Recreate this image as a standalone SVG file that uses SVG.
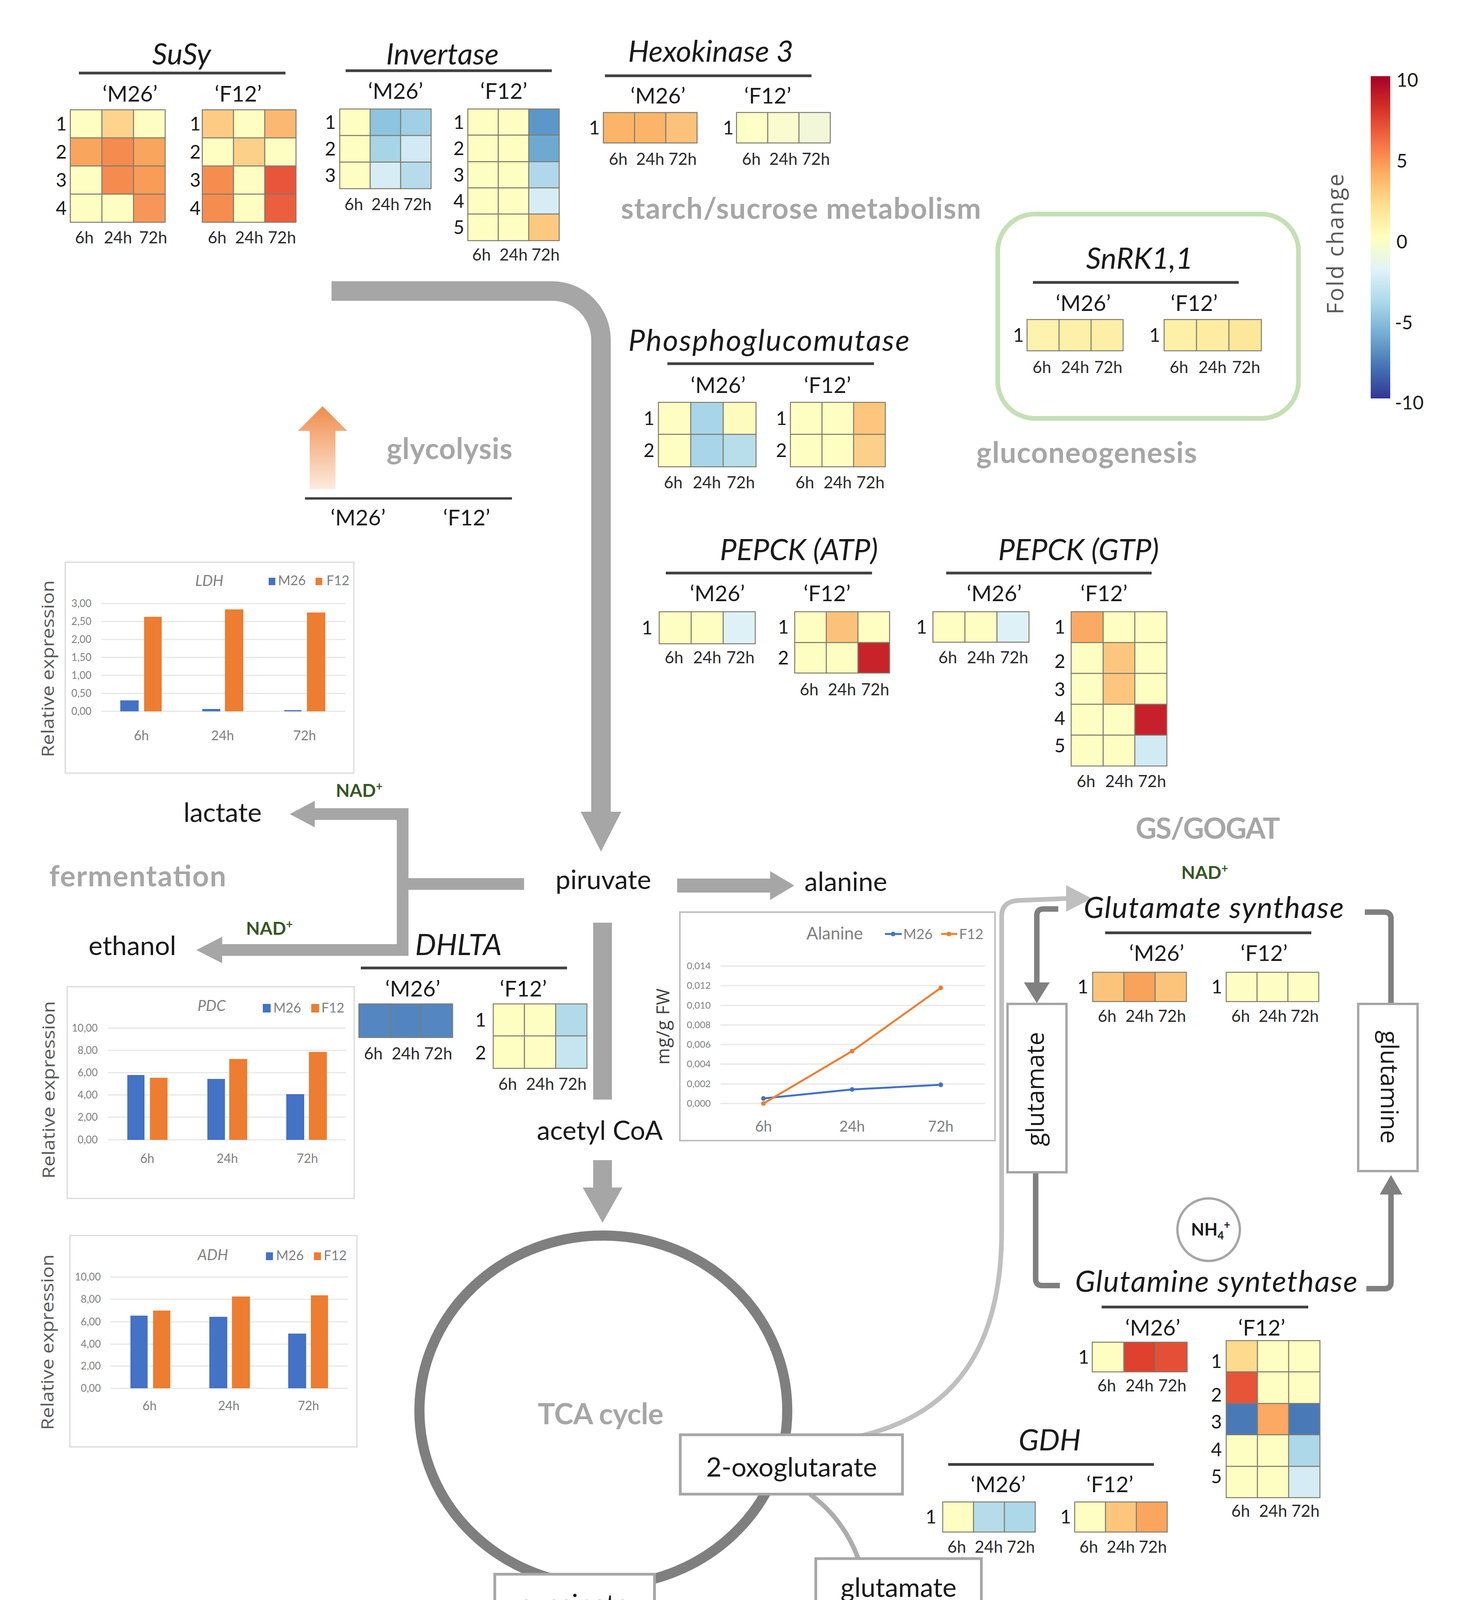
<svg xmlns="http://www.w3.org/2000/svg" width="3731" height="4685" viewBox="0 0 3731 4685">
<defs>
<style>
text{font-family:Lato,'Liberation Sans',Arial,sans-serif;fill:#1a1a1a}
.ti{font-style:italic;font-size:76px;text-anchor:middle}
.st{font-size:56px;text-anchor:middle}
.rw{font-size:48px;text-anchor:middle}
.tm{font-size:42px;text-anchor:middle;fill:#2a2a2a}
.sec{font-weight:bold;fill:#A6A6A6;font-size:74px}
.met{font-size:68px;text-anchor:middle}
.nad{font-weight:bold;fill:#375623;font-size:46px}
.ul{stroke:#404040;stroke-width:7}
.cells rect{stroke:#7d7d6d;stroke-width:2.5}
.cbox{fill:#fff;stroke:#D9D9D9;stroke-width:3}
.grid{stroke:#E6E6E6;stroke-width:3}
.ax{font-size:26px;fill:#7F7F7F;text-anchor:end}
.xl{font-size:32px;fill:#7F7F7F;text-anchor:middle}
.lg{font-size:34px;fill:#7F7F7F}
.ct{font-size:38px;fill:#7F7F7F;font-style:italic;text-anchor:middle}
.rel{font-family:'Open Sans','DejaVu Sans',sans-serif;font-size:44px;fill:#595959;text-anchor:middle}
.bl{fill:#4472C4}
.or{fill:#ED7D31}
.mbox{fill:#fff;stroke:#A6A6A6;stroke-width:7}
.arrow{fill:#A6A6A6}
.dk{fill:none;stroke:#808080;stroke-width:14}
</style>
<linearGradient id="cbar" x1="0" y1="0" x2="0" y2="1">
<stop offset="0" stop-color="#A50026"/>
<stop offset="0.1" stop-color="#D73027"/>
<stop offset="0.2" stop-color="#F46D43"/>
<stop offset="0.3" stop-color="#FDAE61"/>
<stop offset="0.4" stop-color="#FEE090"/>
<stop offset="0.5" stop-color="#FFFFBF"/>
<stop offset="0.6" stop-color="#E0F3F8"/>
<stop offset="0.7" stop-color="#ABD9E9"/>
<stop offset="0.8" stop-color="#74ADD1"/>
<stop offset="0.9" stop-color="#4575B4"/>
<stop offset="1" stop-color="#313695"/>
</linearGradient>
<linearGradient id="orgrad" x1="0" y1="0" x2="0" y2="1">
<stop offset="0" stop-color="#F08C4A"/>
<stop offset="1" stop-color="#FDEBDF"/>
</linearGradient>
</defs>
<rect width="3731" height="4685" fill="#fff"/>

<!-- connectors -->
<g id="connectors">
<path d="M849 745 H1414 A125 125 0 0 1 1539 870 V2085" fill="none" stroke="#A6A6A6" stroke-width="50"/>
<polygon class="arrow" points="1487,2078 1591,2078 1539,2180"/>
<rect class="arrow" x="1519" y="2362" width="48" height="453"/>
<rect class="arrow" x="1519" y="2970" width="48" height="72"/>
<polygon class="arrow" points="1492,3040 1594,3040 1543,3130"/>
<path d="M805 2084 H1031 V2432 H568 M1031 2263 H1342" fill="none" stroke="#A6A6A6" stroke-width="30"/>
<polygon class="arrow" points="806,2050 742,2084 806,2118"/>
<polygon class="arrow" points="569,2398 503,2432 569,2466"/>
<rect class="arrow" x="1734" y="2249" width="240" height="36"/>
<polygon class="arrow" points="1972,2230 2034,2267 1972,2304"/>
<path d="M2160 3685 C2420 3640 2565 3480 2565 3150 L2565 2345 Q2565 2307 2610 2305 L2735 2300" fill="none" stroke="#BFBFBF" stroke-width="12"/>
<polygon fill="#BFBFBF" points="2730,2266 2796,2300 2730,2334"/>
<path class="dk" d="M2710 2327 H2672 Q2655 2327 2655 2344 V2518"/>
<polygon fill="#808080" points="2622,2515 2688,2515 2655,2568"/>
<path class="dk" d="M3495 2335 H3545 Q3562 2335 3562 2352 V2570"/>
<path class="dk" d="M2652 3001 V3274 Q2652 3291 2669 3291 H2714"/>
<path class="dk" d="M3499 3299 H3545 Q3562 3299 3562 3282 V3055"/>
<polygon fill="#808080" points="3533,3058 3591,3058 3562,3008"/>
<path d="M2074 3825 A352 352 0 1 1 1522 4183" fill="none" stroke="#ADADAD" stroke-width="12"/>
</g>

<!-- TCA cycle -->
<g id="tca-cycle">
<ellipse cx="1545" cy="3611" rx="471" ry="448" fill="none" stroke="#7F7F7F" stroke-width="26"/>
<text class="sec" x="1377" y="3646" textLength="322">TCA cycle</text>
</g>
<g id="gaba-shunt-label"><text class="sec" x="1696" y="4223" textLength="406" style="fill:#B3B3B3">GABA shunt</text></g>

<!-- section labels -->
<g id="label-starch"><text class="sec" x="1590" y="560" textLength="922">starch/sucrose metabolism</text></g>
<g id="label-gluconeogenesis"><text class="sec" x="2500" y="1185" textLength="565">gluconeogenesis</text></g>
<g id="label-fermentation"><text class="sec" x="126" y="2269" textLength="453">fermentation</text></g>
<g id="label-gsgogat"><text class="sec" x="2908" y="2147" textLength="370">GS/GOGAT</text></g>

<!-- SuSy -->
<g id="susy">
<text class="ti" x="465" y="165">SuSy</text>
<line class="ul" x1="202" y1="187" x2="731" y2="187"/>
<text class="st" x="333" y="260">‘M26’</text>
<text class="st" x="610" y="260">‘F12’</text>
<g class="cells">
<rect x="180" y="281" width="81" height="72" fill="#FEFEC2"/><rect x="261" y="281" width="81" height="72" fill="#FDD38E"/><rect x="342" y="281" width="81" height="72" fill="#FEFEC2"/>
<rect x="180" y="353" width="81" height="72" fill="#F9A55E"/><rect x="261" y="353" width="81" height="72" fill="#F68B4F"/><rect x="342" y="353" width="81" height="72" fill="#F9A55E"/>
<rect x="180" y="425" width="81" height="72" fill="#FEFEC2"/><rect x="261" y="425" width="81" height="72" fill="#F68B4F"/><rect x="342" y="425" width="81" height="72" fill="#F99C58"/>
<rect x="180" y="497" width="81" height="72" fill="#FEFEC2"/><rect x="261" y="497" width="81" height="72" fill="#FEFEC2"/><rect x="342" y="497" width="81" height="72" fill="#F8965A"/>
<rect x="518" y="281" width="80" height="72" fill="#FDCB84"/><rect x="598" y="281" width="80" height="72" fill="#FEFEC2"/><rect x="678" y="281" width="80" height="72" fill="#FCB872"/>
<rect x="518" y="353" width="80" height="72" fill="#FEFEC2"/><rect x="598" y="353" width="80" height="72" fill="#FDD08A"/><rect x="678" y="353" width="80" height="72" fill="#FEFEC2"/>
<rect x="518" y="425" width="80" height="72" fill="#F68D4F"/><rect x="598" y="425" width="80" height="72" fill="#FEFEC2"/><rect x="678" y="425" width="80" height="72" fill="#E8553A"/>
<rect x="518" y="497" width="80" height="72" fill="#F68D4F"/><rect x="598" y="497" width="80" height="72" fill="#FEFEC2"/><rect x="678" y="497" width="80" height="72" fill="#EB5E3E"/>
</g>
<text class="rw" x="157" y="334">1</text><text class="rw" x="157" y="406">2</text><text class="rw" x="157" y="478">3</text><text class="rw" x="157" y="550">4</text>
<text class="rw" x="500" y="334">1</text><text class="rw" x="500" y="406">2</text><text class="rw" x="500" y="478">3</text><text class="rw" x="500" y="550">4</text>
<text class="tm" x="216" y="623">6h</text><text class="tm" x="302" y="623">24h</text><text class="tm" x="392" y="623">72h</text>
<text class="tm" x="556" y="623">6h</text><text class="tm" x="638" y="623">24h</text><text class="tm" x="722" y="623">72h</text>
</g>

<!-- Invertase -->
<g id="invertase">
<text class="ti" x="1133" y="165">Invertase</text>
<line class="ul" x1="885" y1="181" x2="1413" y2="181"/>
<text class="st" x="1013" y="253">‘M26’</text>
<text class="st" x="1290" y="253">‘F12’</text>
<g class="cells">
<rect x="870" y="279" width="78" height="68" fill="#FEFEC2"/><rect x="948" y="279" width="78" height="68" fill="#8DC4E0"/><rect x="1026" y="279" width="78" height="68" fill="#A0CFE6"/>
<rect x="870" y="347" width="78" height="68" fill="#FEFEC2"/><rect x="948" y="347" width="78" height="68" fill="#A8D4E8"/><rect x="1026" y="347" width="78" height="68" fill="#D2EAF3"/>
<rect x="870" y="415" width="78" height="68" fill="#FEFEC2"/><rect x="948" y="415" width="78" height="68" fill="#D6EDF5"/><rect x="1026" y="415" width="78" height="68" fill="#B6DCEC"/>
<rect x="1198" y="279" width="78" height="67" fill="#FEFEC2"/><rect x="1276" y="279" width="78" height="67" fill="#FEFEC2"/><rect x="1354" y="279" width="78" height="67" fill="#5B97C8"/>
<rect x="1198" y="346" width="78" height="68" fill="#FEFEC2"/><rect x="1276" y="346" width="78" height="68" fill="#FEFEC2"/><rect x="1354" y="346" width="78" height="68" fill="#6EA9D2"/>
<rect x="1198" y="414" width="78" height="67" fill="#FEFEC2"/><rect x="1276" y="414" width="78" height="67" fill="#FEFEC2"/><rect x="1354" y="414" width="78" height="67" fill="#B1D8EA"/>
<rect x="1198" y="481" width="78" height="67" fill="#FEFEC2"/><rect x="1276" y="481" width="78" height="67" fill="#FEFEC2"/><rect x="1354" y="481" width="78" height="67" fill="#D7EDF5"/>
<rect x="1198" y="548" width="78" height="68" fill="#FEFEC2"/><rect x="1276" y="548" width="78" height="68" fill="#FEFEC2"/><rect x="1354" y="548" width="78" height="68" fill="#FDC980"/>
</g>
<text class="rw" x="846" y="330">1</text><text class="rw" x="846" y="398">2</text><text class="rw" x="846" y="466">3</text>
<text class="rw" x="1175" y="330">1</text><text class="rw" x="1175" y="397">2</text><text class="rw" x="1175" y="465">3</text><text class="rw" x="1175" y="532">4</text><text class="rw" x="1175" y="599">5</text>
<text class="tm" x="906" y="538">6h</text><text class="tm" x="987" y="538">24h</text><text class="tm" x="1069" y="538">72h</text>
<text class="tm" x="1233" y="667">6h</text><text class="tm" x="1315" y="667">24h</text><text class="tm" x="1397" y="667">72h</text>
</g>

<!-- Hexokinase 3 -->
<g id="hexokinase3">
<text class="ti" x="1820" y="158">Hexokinase 3</text>
<line class="ul" x1="1549" y1="194" x2="2078" y2="194"/>
<text class="st" x="1685" y="265">‘M26’</text>
<text class="st" x="1966" y="265">‘F12’</text>
<g class="cells">
<rect x="1545" y="288" width="80" height="78" fill="#FBB468"/><rect x="1625" y="288" width="80" height="78" fill="#FBB468"/><rect x="1705" y="288" width="80" height="78" fill="#FCC27C"/>
<rect x="1886" y="288" width="80" height="78" fill="#FEFEC6"/><rect x="1966" y="288" width="80" height="78" fill="#FAFBCE"/><rect x="2046" y="288" width="80" height="78" fill="#F2F7D8"/>
</g>
<text class="rw" x="1522" y="344">1</text><text class="rw" x="1865" y="344">1</text>
<text class="tm" x="1583" y="422">6h</text><text class="tm" x="1665" y="422">24h</text><text class="tm" x="1748" y="422">72h</text>
<text class="tm" x="1924" y="422">6h</text><text class="tm" x="2006" y="422">24h</text><text class="tm" x="2089" y="422">72h</text>
</g>

<!-- colour scale -->
<g id="colour-scale">
<rect x="3510" y="195" width="50" height="825" fill="url(#cbar)"/>
<text x="3576" y="222" font-size="48">10</text>
<text x="3576" y="429" font-size="48">5</text>
<text x="3576" y="636" font-size="48">0</text>
<text x="3572" y="843" font-size="48">-5</text>
<text x="3572" y="1048" font-size="48">-10</text>
<text class="rel" transform="translate(3440,625) rotate(-90)" style="font-size:58px" textLength="360">Fold change</text>
</g>

<!-- SnRK1,1 -->
<g id="snrk11">
<rect x="2555" y="548" width="770" height="523" rx="95" fill="none" stroke="#C5E0B4" stroke-width="12"/>
<text class="ti" x="2918" y="688">SnRK1,1</text>
<line class="ul" x1="2645" y1="723" x2="3172" y2="723"/>
<text class="st" x="2774" y="796">‘M26’</text>
<text class="st" x="3058" y="796">‘F12’</text>
<g class="cells">
<rect x="2630" y="818" width="82" height="80" fill="#FEF2AE"/><rect x="2712" y="818" width="82" height="80" fill="#FEF0A8"/><rect x="2794" y="818" width="82" height="80" fill="#FEEFA6"/>
<rect x="2981" y="818" width="83" height="80" fill="#FEF0A6"/><rect x="3064" y="818" width="83" height="80" fill="#FEEDA1"/><rect x="3147" y="818" width="83" height="80" fill="#FDE79A"/>
</g>
<text class="rw" x="2608" y="875">1</text><text class="rw" x="2957" y="875">1</text>
<text class="tm" x="2668" y="955">6h</text><text class="tm" x="2753" y="955">24h</text><text class="tm" x="2838" y="955">72h</text>
<text class="tm" x="3019" y="955">6h</text><text class="tm" x="3105" y="955">24h</text><text class="tm" x="3191" y="955">72h</text>
</g>

<!-- Phosphoglucomutase -->
<g id="phosphoglucomutase">
<text class="ti" x="1969" y="898" textLength="720">Phosphoglucomutase</text>
<line class="ul" x1="1709" y1="931" x2="2238" y2="931"/>
<text class="st" x="1839" y="1006">‘M26’</text>
<text class="st" x="2119" y="1006">‘F12’</text>
<g class="cells">
<rect x="1686" y="1030" width="83" height="82" fill="#FEFEC2"/><rect x="1769" y="1030" width="83" height="82" fill="#A9D5E8"/><rect x="1852" y="1030" width="84" height="82" fill="#FEFBBE"/>
<rect x="1686" y="1112" width="83" height="83" fill="#FEFEC2"/><rect x="1769" y="1112" width="83" height="83" fill="#A9D5E8"/><rect x="1852" y="1112" width="84" height="83" fill="#B8DEEC"/>
<rect x="2024" y="1030" width="81" height="82" fill="#FEFEC2"/><rect x="2105" y="1030" width="81" height="82" fill="#FEFEC2"/><rect x="2186" y="1030" width="81" height="82" fill="#FDC67C"/>
<rect x="2024" y="1112" width="81" height="83" fill="#FEFEC2"/><rect x="2105" y="1112" width="81" height="83" fill="#FEFEC2"/><rect x="2186" y="1112" width="81" height="83" fill="#FDD089"/>
</g>
<text class="rw" x="1662" y="1088">1</text><text class="rw" x="1662" y="1170">2</text>
<text class="rw" x="2001" y="1088">1</text><text class="rw" x="2001" y="1170">2</text>
<text class="tm" x="1724" y="1250">6h</text><text class="tm" x="1810" y="1250">24h</text><text class="tm" x="1897" y="1250">72h</text>
<text class="tm" x="2061" y="1250">6h</text><text class="tm" x="2145" y="1250">24h</text><text class="tm" x="2229" y="1250">72h</text>
</g>

<!-- PEPCK (ATP) -->
<g id="pepck-atp">
<text class="ti" x="2046" y="1434">PEPCK (ATP)</text>
<line class="ul" x1="1705" y1="1467" x2="2233" y2="1467"/>
<text class="st" x="1837" y="1539">‘M26’</text>
<text class="st" x="2118" y="1539">‘F12’</text>
<g class="cells">
<rect x="1688" y="1566" width="82" height="82" fill="#FEFEC2"/><rect x="1770" y="1566" width="82" height="82" fill="#FEFEC2"/><rect x="1852" y="1566" width="82" height="82" fill="#DEF1F7"/>
<rect x="2035" y="1566" width="81" height="79" fill="#FEFEC2"/><rect x="2116" y="1566" width="81" height="79" fill="#FDC27A"/><rect x="2197" y="1566" width="81" height="79" fill="#FEFEC2"/>
<rect x="2035" y="1645" width="81" height="78" fill="#FEFEC2"/><rect x="2116" y="1645" width="81" height="78" fill="#FEFEC2"/><rect x="2197" y="1645" width="81" height="78" fill="#C8232A"/>
</g>
<text class="rw" x="1657" y="1624">1</text>
<text class="rw" x="2006" y="1622">1</text><text class="rw" x="2006" y="1701">2</text>
<text class="tm" x="1726" y="1698">6h</text><text class="tm" x="1811" y="1698">24h</text><text class="tm" x="1896" y="1698">72h</text>
<text class="tm" x="2072" y="1780">6h</text><text class="tm" x="2156" y="1780">24h</text><text class="tm" x="2241" y="1780">72h</text>
</g>

<!-- PEPCK (GTP) -->
<g id="pepck-gtp">
<text class="ti" x="2762" y="1434">PEPCK (GTP)</text>
<line class="ul" x1="2423" y1="1467" x2="2949" y2="1467"/>
<text class="st" x="2546" y="1539">‘M26’</text>
<text class="st" x="2827" y="1539">‘F12’</text>
<g class="cells">
<rect x="2389" y="1566" width="82" height="78" fill="#FEFEC2"/><rect x="2471" y="1566" width="82" height="78" fill="#FEFEC2"/><rect x="2553" y="1566" width="82" height="78" fill="#DEF1F7"/>
<rect x="2743" y="1566" width="82" height="79" fill="#FBAA63"/><rect x="2825" y="1566" width="81" height="79" fill="#FEFEC2"/><rect x="2906" y="1566" width="82" height="79" fill="#FEFEC2"/>
<rect x="2743" y="1645" width="82" height="79" fill="#FEFEC2"/><rect x="2825" y="1645" width="81" height="79" fill="#FDC67F"/><rect x="2906" y="1645" width="82" height="79" fill="#FEFEC2"/>
<rect x="2743" y="1724" width="82" height="79" fill="#FEFEC2"/><rect x="2825" y="1724" width="81" height="79" fill="#FDC67F"/><rect x="2906" y="1724" width="82" height="79" fill="#FEFEC2"/>
<rect x="2743" y="1803" width="82" height="79" fill="#FEFEC2"/><rect x="2825" y="1803" width="81" height="79" fill="#FEFEC2"/><rect x="2906" y="1803" width="82" height="79" fill="#C8202A"/>
<rect x="2743" y="1882" width="82" height="79" fill="#FEFEC2"/><rect x="2825" y="1882" width="81" height="79" fill="#FEFEC2"/><rect x="2906" y="1882" width="82" height="79" fill="#D1EBF4"/>
</g>
<text class="rw" x="2360" y="1622">1</text>
<text class="rw" x="2714" y="1622">1</text><text class="rw" x="2714" y="1710">2</text><text class="rw" x="2714" y="1782">3</text><text class="rw" x="2714" y="1856">4</text><text class="rw" x="2714" y="1926">5</text>
<text class="tm" x="2427" y="1698">6h</text><text class="tm" x="2512" y="1698">24h</text><text class="tm" x="2597" y="1698">72h</text>
<text class="tm" x="2781" y="2015">6h</text><text class="tm" x="2866" y="2015">24h</text><text class="tm" x="2950" y="2015">72h</text>
</g>

<!-- glycolysis -->
<g id="glycolysis">
<polygon points="826,1040 889,1103 859,1103 859,1252 793,1252 793,1103 763,1103" fill="url(#orgrad)"/>
<text class="sec" x="990" y="1175" textLength="322">glycolysis</text>
<line x1="781" y1="1276" x2="1311" y2="1276" stroke="#404040" stroke-width="6"/>
<text class="st" x="917" y="1345">‘M26’</text>
<text class="st" x="1195" y="1345">‘F12’</text>
</g>

<!-- LDH chart -->
<g id="ldh-chart">
<rect class="cbox" x="167" y="1439" width="739" height="540"/>
<text class="rel" transform="translate(138,1712) rotate(-90)" textLength="453" lengthAdjust="spacingAndGlyphs">Relative expression</text>
<text class="ct" x="536" y="1500">LDH</text>
<rect class="bl" x="688" y="1479" width="17" height="19"/><text class="lg" x="712" y="1498">M26</text>
<rect class="or" x="808" y="1479" width="17" height="19"/><text class="lg" x="836" y="1498">F12</text>
<g class="grid">
<line x1="259" y1="1545" x2="884" y2="1545"/><line x1="259" y1="1591" x2="884" y2="1591"/><line x1="259" y1="1637" x2="884" y2="1637"/><line x1="259" y1="1683" x2="884" y2="1683"/><line x1="259" y1="1729" x2="884" y2="1729"/><line x1="259" y1="1775" x2="884" y2="1775"/><line x1="259" y1="1821" x2="884" y2="1821"/>
</g>
<text class="ax" x="234" y="1554">3,00</text><text class="ax" x="234" y="1600">2,50</text><text class="ax" x="234" y="1646">2,00</text><text class="ax" x="234" y="1692">1,50</text><text class="ax" x="234" y="1738">1,00</text><text class="ax" x="234" y="1784">0,50</text><text class="ax" x="234" y="1830">0,00</text>
<rect class="bl" x="308" y="1793" width="47" height="28"/><rect class="or" x="369" y="1579" width="45" height="242"/>
<rect class="bl" x="518" y="1815" width="46" height="6"/><rect class="or" x="576" y="1560" width="47" height="261"/>
<rect class="bl" x="728" y="1818" width="44" height="3"/><rect class="or" x="786" y="1568" width="47" height="253"/>
<text class="xl" x="362" y="1895" style="font-size:34px">6h</text><text class="xl" x="570" y="1895" style="font-size:34px">24h</text><text class="xl" x="780" y="1895" style="font-size:34px">72h</text>
</g>

<!-- fermentation products -->
<g id="lactate"><text class="met" x="570" y="2104">lactate</text></g>
<g id="ethanol"><text class="met" x="339" y="2445">ethanol</text></g>
<g id="nad-lactate"><text class="nad" x="860" y="2040">NAD<tspan font-size="30" dy="-16">+</tspan></text></g>
<g id="nad-ethanol"><text class="nad" x="630" y="2393">NAD<tspan font-size="30" dy="-16">+</tspan></text></g>
<g id="piruvate"><text class="met" x="1545" y="2276">piruvate</text></g>
<g id="acetyl-coa"><text class="met" x="1536" y="2918">acetyl CoA</text></g>
<g id="alanine"><text class="met" x="2166" y="2281">alanine</text></g>

<!-- DHLTA -->
<g id="dhlta">
<text class="ti" x="1174" y="2445">DHLTA</text>
<line class="ul" x1="924" y1="2478" x2="1452" y2="2478"/>
<text class="st" x="1057" y="2551">‘M26’</text>
<text class="st" x="1340" y="2551">‘F12’</text>
<g class="cells">
<rect x="919" y="2570" width="80" height="86" fill="#5486C1"/><rect x="999" y="2570" width="80" height="86" fill="#5285C0"/><rect x="1079" y="2570" width="80" height="86" fill="#5486C1"/>
<rect x="1263" y="2570" width="80" height="82" fill="#FEFEC2"/><rect x="1343" y="2570" width="80" height="82" fill="#FEFEC2"/><rect x="1423" y="2570" width="80" height="82" fill="#B3DAEB"/>
<rect x="1263" y="2652" width="80" height="83" fill="#FEFEC2"/><rect x="1343" y="2652" width="80" height="83" fill="#FEFEC2"/><rect x="1423" y="2652" width="80" height="83" fill="#C6E5F0"/>
</g>
<text class="rw" x="1231" y="2628">1</text><text class="rw" x="1231" y="2712">2</text>
<text class="tm" x="956" y="2712">6h</text><text class="tm" x="1039" y="2712">24h</text><text class="tm" x="1122" y="2712">72h</text>
<text class="tm" x="1300" y="2790">6h</text><text class="tm" x="1383" y="2790">24h</text><text class="tm" x="1466" y="2790">72h</text>
</g>

<!-- PDC chart -->
<g id="pdc-chart">
<rect class="cbox" x="172" y="2526" width="735" height="542"/>
<text class="rel" transform="translate(140,2790) rotate(-90)" textLength="455" lengthAdjust="spacingAndGlyphs">Relative expression</text>
<text class="ct" x="542" y="2588">PDC</text>
<rect class="bl" x="673" y="2570" width="20" height="22"/><text class="lg" x="700" y="2592">M26</text>
<rect class="or" x="797" y="2570" width="20" height="22"/><text class="lg" x="823" y="2592">F12</text>
<g class="grid">
<line x1="276" y1="2632" x2="886" y2="2632"/><line x1="276" y1="2689" x2="886" y2="2689"/><line x1="276" y1="2746" x2="886" y2="2746"/><line x1="276" y1="2803" x2="886" y2="2803"/><line x1="276" y1="2860" x2="886" y2="2860"/><line x1="276" y1="2918" x2="886" y2="2918"/>
</g>
<text class="ax" x="250" y="2641">10,00</text><text class="ax" x="250" y="2698">8,00</text><text class="ax" x="250" y="2755">6,00</text><text class="ax" x="250" y="2812">4,00</text><text class="ax" x="250" y="2869">2,00</text><text class="ax" x="250" y="2927">0,00</text>
<rect class="bl" x="326" y="2752" width="44" height="166"/><rect class="or" x="384" y="2759" width="45" height="159"/>
<rect class="bl" x="531" y="2762" width="45" height="156"/><rect class="or" x="587" y="2711" width="46" height="207"/>
<rect class="bl" x="733" y="2801" width="46" height="117"/><rect class="or" x="791" y="2693" width="46" height="225"/>
<text class="xl" x="377" y="2977">6h</text><text class="xl" x="582" y="2977">24h</text><text class="xl" x="787" y="2977">72h</text>
</g>

<!-- ADH chart -->
<g id="adh-chart">
<rect class="cbox" x="179" y="3163" width="735" height="541"/>
<text class="rel" transform="translate(137,3436) rotate(-90)" textLength="450" lengthAdjust="spacingAndGlyphs">Relative expression</text>
<text class="ct" x="545" y="3226">ADH</text>
<rect class="bl" x="681" y="3206" width="18" height="20"/><text class="lg" x="707" y="3226">M26</text>
<rect class="or" x="804" y="3206" width="18" height="20"/><text class="lg" x="829" y="3226">F12</text>
<g class="grid">
<line x1="283" y1="3269" x2="891" y2="3269"/><line x1="283" y1="3326" x2="891" y2="3326"/><line x1="283" y1="3384" x2="891" y2="3384"/><line x1="283" y1="3441" x2="891" y2="3441"/><line x1="283" y1="3497" x2="891" y2="3497"/><line x1="283" y1="3554" x2="891" y2="3554"/>
</g>
<text class="ax" x="258" y="3278">10,00</text><text class="ax" x="258" y="3335">8,00</text><text class="ax" x="258" y="3393">6,00</text><text class="ax" x="258" y="3450">4,00</text><text class="ax" x="258" y="3506">2,00</text><text class="ax" x="258" y="3563">0,00</text>
<rect class="bl" x="334" y="3368" width="44" height="186"/><rect class="or" x="392" y="3355" width="44" height="199"/>
<rect class="bl" x="536" y="3371" width="46" height="183"/><rect class="or" x="594" y="3319" width="46" height="235"/>
<rect class="bl" x="738" y="3414" width="46" height="140"/><rect class="or" x="796" y="3316" width="44" height="238"/>
<text class="xl" x="383" y="3610">6h</text><text class="xl" x="586" y="3610">24h</text><text class="xl" x="790" y="3610">72h</text>
</g>

<!-- Alanine chart -->
<g id="alanine-chart">
<rect x="1741" y="2335" width="807" height="585" fill="#fff" stroke="#BFBFBF" stroke-width="4"/>
<text class="rel" transform="translate(1714,2628) rotate(-90)" style="font-size:46px;fill:#404040" textLength="195">mg/g FW</text>
<text x="2065" y="2405" font-size="44" style="fill:#7F7F7F">Alanine</text>
<line x1="2266" y1="2391" x2="2309" y2="2391" stroke="#4472C4" stroke-width="5"/><circle cx="2287" cy="2391" r="6" fill="#4472C4"/>
<text x="2313" y="2404" font-size="36" style="fill:#7F7F7F">M26</text>
<line x1="2410" y1="2391" x2="2451" y2="2391" stroke="#ED7D31" stroke-width="5"/><circle cx="2430" cy="2391" r="6" fill="#ED7D31"/>
<text x="2456" y="2404" font-size="36" style="fill:#7F7F7F">F12</text>
<g class="grid">
<line x1="1845" y1="2473" x2="2522" y2="2473"/><line x1="1845" y1="2523" x2="2522" y2="2523"/><line x1="1845" y1="2574" x2="2522" y2="2574"/><line x1="1845" y1="2624" x2="2522" y2="2624"/><line x1="1845" y1="2674" x2="2522" y2="2674"/><line x1="1845" y1="2724" x2="2522" y2="2724"/><line x1="1845" y1="2775" x2="2522" y2="2775"/><line x1="1845" y1="2825" x2="2522" y2="2825"/>
</g>
<text class="ax" x="1820" y="2481" style="font-size:24px">0,014</text><text class="ax" x="1820" y="2531" style="font-size:24px">0,012</text><text class="ax" x="1820" y="2582" style="font-size:24px">0,010</text><text class="ax" x="1820" y="2632" style="font-size:24px">0,008</text><text class="ax" x="1820" y="2682" style="font-size:24px">0,006</text><text class="ax" x="1820" y="2732" style="font-size:24px">0,004</text><text class="ax" x="1820" y="2783" style="font-size:24px">0,002</text><text class="ax" x="1820" y="2833" style="font-size:24px">0,000</text>
<polyline points="1955,2812 2182,2789 2409,2777" fill="none" stroke="#4472C4" stroke-width="5"/>
<circle cx="1955" cy="2812" r="6" fill="#4472C4"/><circle cx="2182" cy="2789" r="6" fill="#4472C4"/><circle cx="2409" cy="2777" r="6" fill="#4472C4"/>
<polyline points="1955,2825 2182,2691 2409,2529" fill="none" stroke="#ED7D31" stroke-width="5"/>
<circle cx="1955" cy="2825" r="6" fill="#ED7D31"/><circle cx="2182" cy="2691" r="6" fill="#ED7D31"/><circle cx="2409" cy="2529" r="6" fill="#ED7D31"/>
<text class="xl" x="1955" y="2897" style="font-size:38px">6h</text><text class="xl" x="2182" y="2897" style="font-size:38px">24h</text><text class="xl" x="2409" y="2897" style="font-size:38px">72h</text>
</g>

<!-- GS/GOGAT -->
<g id="nad-gogat"><text class="nad" x="3025" y="2250">NAD<tspan font-size="30" dy="-16">+</tspan></text></g>
<g id="glutamate-synthase">
<text class="ti" x="2775" y="2350" style="text-anchor:start" textLength="666">Glutamate synthase</text>
<line class="ul" x1="2830" y1="2388" x2="3358" y2="2388"/>
<text class="st" x="2962" y="2460">‘M26’</text>
<text class="st" x="3237" y="2460">‘F12’</text>
<g class="cells">
<rect x="2798" y="2489" width="80" height="75" fill="#FCC47A"/><rect x="2878" y="2489" width="80" height="75" fill="#F9A25C"/><rect x="2958" y="2489" width="80" height="75" fill="#FCC47A"/>
<rect x="3140" y="2489" width="79" height="75" fill="#FEFEC4"/><rect x="3219" y="2489" width="79" height="75" fill="#FEFEC4"/><rect x="3298" y="2489" width="79" height="75" fill="#FEFEC4"/>
</g>
<text class="rw" x="2773" y="2543">1</text><text class="rw" x="3116" y="2543">1</text>
<text class="tm" x="2835" y="2616">6h</text><text class="tm" x="2918" y="2616">24h</text><text class="tm" x="3001" y="2616">72h</text>
<text class="tm" x="3177" y="2616">6h</text><text class="tm" x="3259" y="2616">24h</text><text class="tm" x="3341" y="2616">72h</text>
</g>
<g id="glutamate-gs">
<rect x="2580" y="2570" width="151" height="431" fill="#fff" stroke="#A6A6A6" stroke-width="6"/>
<text class="rel" transform="translate(2673,2788) rotate(-90)" style="font-size:62px;fill:#1a1a1a">glutamate</text>
</g>
<g id="glutamine">
<rect x="3478" y="2570" width="152" height="428" fill="#fff" stroke="#A6A6A6" stroke-width="6"/>
<text class="rel" transform="translate(3536,2783) rotate(90)" style="font-size:62px;fill:#1a1a1a">glutamine</text>
</g>
<g id="nh4">
<circle cx="3095" cy="3148" r="80" fill="#fff" stroke="#A6A6A6" stroke-width="6"/>
<text x="3050" y="3163" font-size="44" font-weight="bold">NH<tspan font-size="28" dy="10">4</tspan><tspan font-size="28" dy="-28">+</tspan></text>
</g>

<!-- Glutamine syntethase -->
<g id="glutamine-syntethase">
<text class="ti" x="2753" y="3307" style="text-anchor:start" textLength="723">Glutamine syntethase</text>
<line class="ul" x1="2821" y1="3346" x2="3350" y2="3346"/>
<text class="st" x="2952" y="3419">‘M26’</text>
<text class="st" x="3231" y="3419">‘F12’</text>
<g class="cells">
<rect x="2797" y="3436" width="81" height="76" fill="#FEFEC2"/><rect x="2878" y="3436" width="81" height="76" fill="#E0402E"/><rect x="2959" y="3436" width="81" height="76" fill="#E54F36"/>
<rect x="3140" y="3432" width="80" height="80" fill="#FDDA8E"/><rect x="3220" y="3432" width="80" height="80" fill="#FEFEC2"/><rect x="3300" y="3432" width="80" height="80" fill="#FEFEC2"/>
<rect x="3140" y="3512" width="80" height="81" fill="#E75438"/><rect x="3220" y="3512" width="80" height="81" fill="#FEFEC2"/><rect x="3300" y="3512" width="80" height="81" fill="#FEFEC2"/>
<rect x="3140" y="3593" width="80" height="80" fill="#4A79B8"/><rect x="3220" y="3593" width="80" height="80" fill="#FBA963"/><rect x="3300" y="3593" width="80" height="80" fill="#4A79B8"/>
<rect x="3140" y="3673" width="80" height="81" fill="#FEFEC2"/><rect x="3220" y="3673" width="80" height="81" fill="#FEFEC2"/><rect x="3300" y="3673" width="80" height="81" fill="#ADD8E9"/>
<rect x="3140" y="3754" width="80" height="80" fill="#FEFEC2"/><rect x="3220" y="3754" width="80" height="80" fill="#FEFEC2"/><rect x="3300" y="3754" width="80" height="80" fill="#D5ECF5"/>
</g>
<text class="rw" x="2775" y="3491">1</text>
<text class="rw" x="3115" y="3502">1</text><text class="rw" x="3115" y="3588">2</text><text class="rw" x="3115" y="3657">3</text><text class="rw" x="3115" y="3728">4</text><text class="rw" x="3115" y="3797">5</text>
<text class="tm" x="2834" y="3562">6h</text><text class="tm" x="2918" y="3562">24h</text><text class="tm" x="3002" y="3562">72h</text>
<text class="tm" x="3177" y="3883">6h</text><text class="tm" x="3260" y="3883">24h</text><text class="tm" x="3343" y="3883">72h</text>
</g>

<!-- GDH -->
<g id="gdh">
<text class="ti" x="2688" y="3713">GDH</text>
<line class="ul" x1="2428" y1="3749" x2="2955" y2="3749"/>
<text class="st" x="2556" y="3820">‘M26’</text>
<text class="st" x="2842" y="3820">‘F12’</text>
<g class="cells">
<rect x="2414" y="3845" width="79" height="77" fill="#FEFEC2"/><rect x="2493" y="3845" width="79" height="77" fill="#B6DCEC"/><rect x="2572" y="3845" width="79" height="77" fill="#ADD8E9"/>
<rect x="2752" y="3845" width="79" height="77" fill="#FEFEC2"/><rect x="2831" y="3845" width="79" height="77" fill="#FDC67C"/><rect x="2910" y="3845" width="79" height="77" fill="#FAA65E"/>
</g>
<text class="rw" x="2384" y="3900">1</text><text class="rw" x="2729" y="3900">1</text>
<text class="tm" x="2450" y="3975">6h</text><text class="tm" x="2532" y="3975">24h</text><text class="tm" x="2614" y="3975">72h</text>
<text class="tm" x="2788" y="3975">6h</text><text class="tm" x="2870" y="3975">24h</text><text class="tm" x="2952" y="3975">72h</text>
</g>

<!-- metabolite boxes -->
<g id="oxoglutarate"><rect class="mbox" x="1742" y="3673" width="569" height="152"/><text class="met" x="2027" y="3780">2-oxoglutarate</text></g>
<g id="succinate"><rect class="mbox" x="1267" y="4030" width="409" height="152"/><text class="met" x="1472" y="4130">succinate</text></g>
<g id="ssa"><rect class="mbox" x="1495" y="4276" width="234" height="151"/><text class="met" x="1612" y="4375">SSA</text></g>
<g id="gaba"><rect class="mbox" x="1940" y="4303" width="298" height="152"/><text class="met" x="2089" y="4402">GABA</text></g>
<g id="glutamate-shunt"><rect class="mbox" x="2089" y="3990" width="424" height="152"/><text class="met" x="2301" y="4088">glutamate</text></g>

<g id="hplus">
<circle cx="2830" cy="4210" r="80" fill="#fff" stroke="#A6A6A6" stroke-width="6"/>
<text x="2804" y="4226" font-size="44" font-weight="bold">H<tspan font-size="28" dy="-18">+</tspan></text>
</g>

<!-- GAD -->
<g id="gad">
<text class="ti" x="2534" y="4275">GAD</text>
<line class="ul" x1="2276" y1="4311" x2="2805" y2="4311"/>
<text class="st" x="2407" y="4383">‘M26’</text>
<text class="st" x="2692" y="4383">‘F12’</text>
<g class="cells">
<rect x="2268" y="4408" width="78" height="77" fill="#FEFEC2"/><rect x="2346" y="4408" width="78" height="77" fill="#FEFEC2"/><rect x="2424" y="4408" width="79" height="77" fill="#FEFEC2"/>
<rect x="2604" y="4408" width="79" height="74" fill="#FEFEC2"/><rect x="2683" y="4408" width="79" height="74" fill="#FDD08A"/><rect x="2762" y="4408" width="79" height="74" fill="#FA9F5A"/>
<rect x="2604" y="4482" width="79" height="74" fill="#FEFEC2"/><rect x="2683" y="4482" width="79" height="74" fill="#FEFEC2"/><rect x="2762" y="4482" width="79" height="74" fill="#FA9F5A"/>
</g>
<text class="rw" x="2577" y="4462">1</text><text class="rw" x="2577" y="4540">2</text>
<text class="tm" x="2304" y="4539">6h</text><text class="tm" x="2385" y="4539">24h</text><text class="tm" x="2466" y="4539">72h</text>
<text class="tm" x="2640" y="4609">6h</text><text class="tm" x="2722" y="4609">24h</text><text class="tm" x="2804" y="4609">72h</text>
</g>
</svg>
